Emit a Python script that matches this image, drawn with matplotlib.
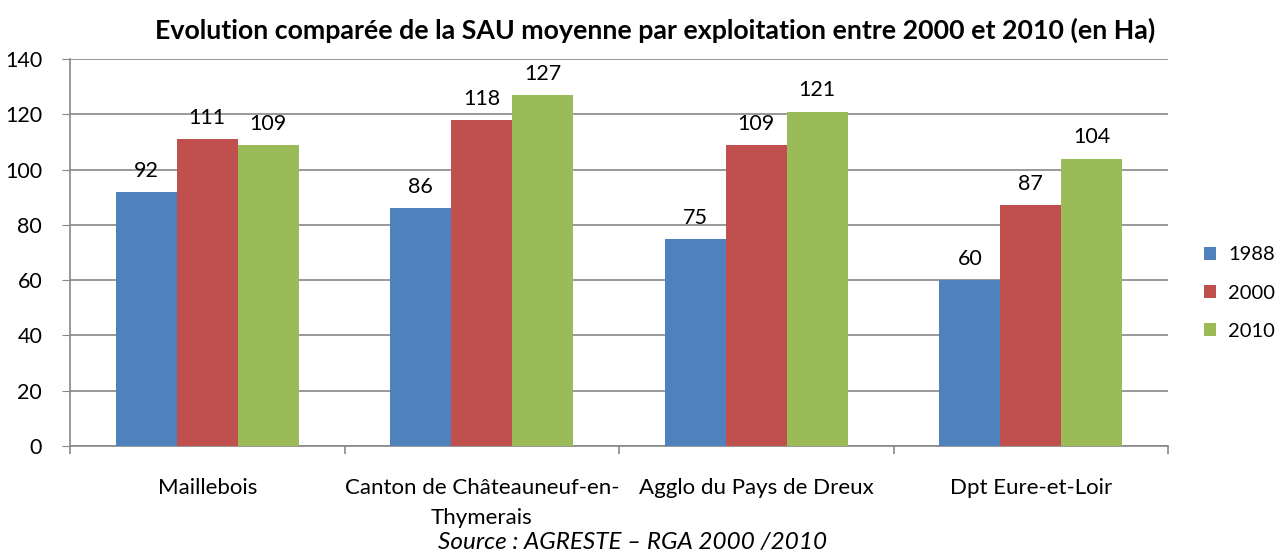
import numpy as np
import matplotlib.pyplot as plt

plt.rcParams['font.family'] = ['Lato', 'DejaVu Sans']

# Data
categories = ["Maillebois", "Canton de Châteauneuf-en-\nThymerais",
              "Agglo du Pays de Dreux", "Dpt Eure-et-Loir"]
years = ["1988", "2000", "2010"]
v1988 = [92, 86, 75, 60]
v2000 = [111, 118, 109, 87]
v2010 = [109, 127, 121, 104]
series = [v1988, v2000, v2010]
colors = ["#4F81BD", "#C0504D", "#9BBB59"]

fig = plt.figure(figsize=(12.8, 5.54), dpi=100)
ax = fig.add_axes([0.0547, 0.195, 0.8578, 0.6985])

x = np.arange(len(categories))
width = 0.222
for i, (vals, col, lab) in enumerate(zip(series, colors, years)):
    pos = x + (i - 1) * width
    bars = ax.bar(pos, vals, width, color=col, label=lab, zorder=3)
    for b, v in zip(bars, vals):
        ax.text(b.get_x() + b.get_width() / 2, v + 4, str(v),
                ha='center', va='bottom', fontsize=15.5, color='black')

ax.set_xlim(-0.5, len(categories) - 0.5)
ax.set_ylim(0, 140)
ax.set_yticks(range(0, 141, 20))
ax.tick_params(axis='y', labelsize=15.5, length=6, color='#888888', pad=14)
ax.yaxis.grid(True, color='#888888', linewidth=1.2, zorder=0)

# category labels centered, ticks at boundaries
ax.set_xticks(x)
ax.set_xticklabels(categories, fontsize=16, linespacing=1.62)
ax.tick_params(axis='x', length=0, pad=23)
ax.set_xticks(np.arange(-0.5, len(categories)), minor=True)
ax.tick_params(axis='x', which='minor', length=6, color='#888888', width=1.2)

for s in ['top', 'right']:
    ax.spines[s].set_visible(False)
for s in ['left', 'bottom']:
    ax.spines[s].set_color('#888888')
    ax.spines[s].set_linewidth(1.2)

leg = ax.legend(loc='center left', bbox_to_anchor=(1.033, 0.395), frameon=False,
                fontsize=14.5, handlelength=0.6, handleheight=0.6,
                handletextpad=0.6, labelspacing=1.05, borderaxespad=0,
                borderpad=0)

fig.text(0.512, 0.945, "Evolution comparée de la SAU moyenne par exploitation entre 2000 et 2010 (en Ha)",
         ha='center', va='center', fontsize=19.3, fontweight='bold')
fig.text(0.494, 0.02, "Source : AGRESTE – RGA 2000 /2010",
         ha='center', va='center', fontsize=17.5, style='italic')

fig.savefig("out.png", dpi=100)
